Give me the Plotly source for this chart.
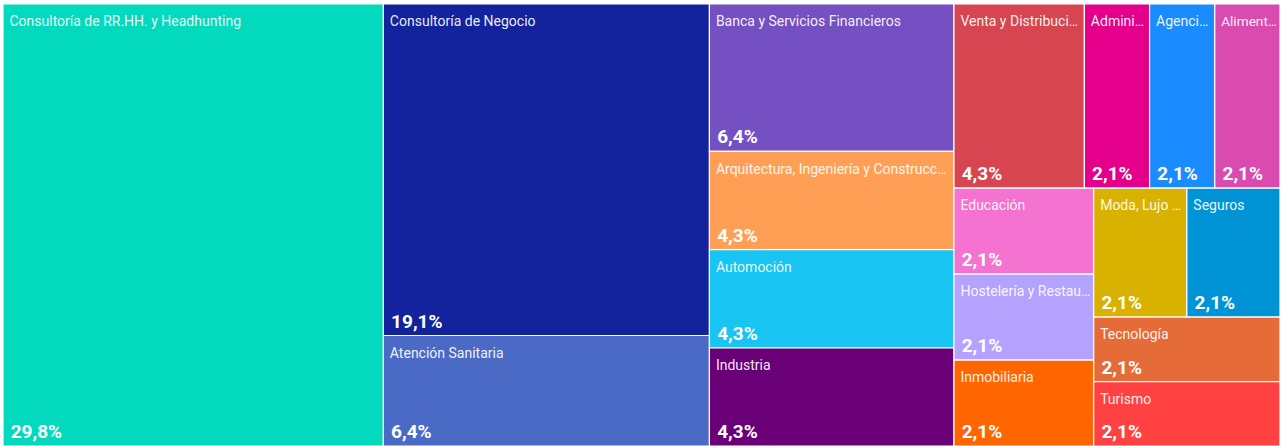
import plotly.graph_objects as go

# ---- data (alphabetical order; counts read from the percentages, total 47) ----
categories = [
    "Administración",
    "Agencias",
    "Alimentación",
    "Arquitectura, Ingeniería y Construcción",
    "Atención Sanitaria",
    "Automoción",
    "Banca y Servicios Financieros",
    "Consultoría de Negocio",
    "Consultoría de RR.HH. y Headhunting",
    "Educación",
    "Hostelería y Restauración",
    "Industria",
    "Inmobiliaria",
    "Moda, Lujo y Belleza",
    "Seguros",
    "Tecnología",
    "Turismo",
    "Venta y Distribución",
]
values = [1, 1, 1, 2, 3, 2, 3, 9, 14, 1, 1, 2, 1, 1, 1, 1, 1, 2]
display_labels = [
    "Admini…",
    "Agenci…",
    "Aliment…",
    "Arquitectura, Ingeniería y Construcc…",
    "Atención Sanitaria",
    "Automoción",
    "Banca y Servicios Financieros",
    "Consultoría de Negocio",
    "Consultoría de RR.HH. y Headhunting",
    "Educación",
    "Hostelería y Restau…",
    "Industria",
    "Inmobiliaria",
    "Moda, Lujo …",
    "Seguros",
    "Tecnología",
    "Turismo",
    "Venta y Distribuci…",
]
colors = [
    "#E5008C", "#1A8CFF", "#D94BAF", "#FF9F55", "#4A6AC6", "#17C4F2",
    "#7450C2", "#13239E", "#03D9BD", "#F472D0", "#B4A2FF", "#6A0078",
    "#FF6500", "#D9B100", "#0093D6", "#E56C38", "#FF4142", "#D64550",
]
root_label = "Total"

total = sum(values)
pct_text = [f"{v / total * 100:.1f}".replace(".", ",") + "%" for v in values]

labels_all = [root_label] + categories
parents_all = [""] + [root_label] * len(categories)
values_all = [0] + values

dom = dict(x=[3 / 1288, 1280 / 1288], y=[0, 442 / 446])
tiling = dict(packing="squarify", squarifyratio=1.618034, pad=0)
no_pad = dict(t=0, l=0, r=0, b=0)
nb = "\u00a0"
spacer = "<span style='font-size:1px'>\u00a0</span><br>"

fig = go.Figure()
fig.add_trace(go.Treemap(
    labels=labels_all,
    parents=parents_all,
    values=values_all,
    branchvalues="remainder",
    text=[""] + [spacer + nb + s for s in display_labels],
    texttemplate="%{text}",
    textposition="top left",
    sort=True,
    tiling=tiling,
    marker=dict(colors=["white"] + colors, line=dict(color="white", width=1.2), pad=no_pad),
    textfont=dict(family="Roboto", size=14, color="rgba(255,255,255,0.93)"),
    pathbar=dict(visible=False),
    domain=dom,
    hoverinfo="label+value",
))
fig.add_trace(go.Treemap(
    labels=labels_all,
    parents=parents_all,
    values=values_all,
    branchvalues="remainder",
    text=[""] + [nb + s for s in pct_text],
    texttemplate="<b>%{text}</b>",
    textposition="bottom left",
    sort=True,
    tiling=tiling,
    marker=dict(colors=["rgba(0,0,0,0)"] * len(labels_all),
                line=dict(color="rgba(0,0,0,0)", width=0), pad=no_pad),
    textfont=dict(family="Roboto", size=19, color="white"),
    pathbar=dict(visible=False),
    domain=dom,
    hoverinfo="skip",
))
fig.update_layout(
    width=1288,
    height=446,
    margin=dict(l=0, r=0, t=0, b=0),
    paper_bgcolor="white",
    showlegend=False,
    separators=",.",
)
fig.write_html(
    "out.html",
    config={"displayModeBar": False},
    post_script="document.body.style.margin='0';document.body.style.overflow='hidden';",
)
